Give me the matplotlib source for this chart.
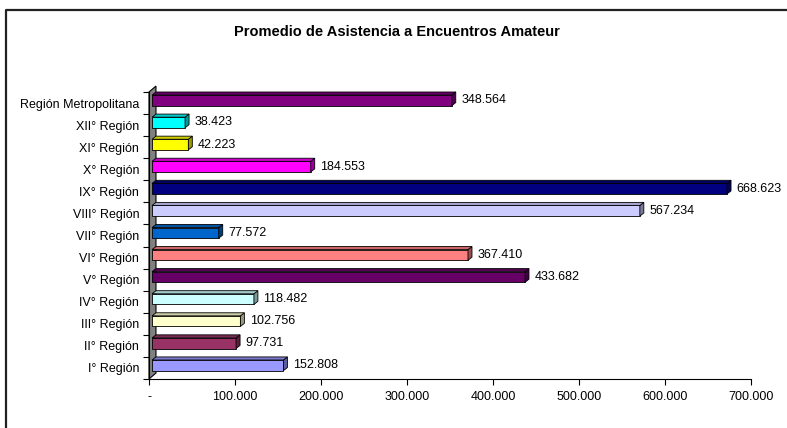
import matplotlib
matplotlib.use("Agg")
import matplotlib.pyplot as plt
import numpy as np
from matplotlib.colors import to_rgb
from matplotlib.lines import Line2D
from matplotlib.patches import Polygon

plt.rcParams["font.family"] = ["Liberation Sans", "DejaVu Sans"]

TITLE = "Promedio de Asistencia a Encuentros Amateur"

REGIONS = [
    "I° Región", "II° Región", "III° Región", "IV° Región", "V° Región",
    "VI° Región", "VII° Región", "VIII° Región", "IX° Región", "X° Región",
    "XI° Región", "XII° Región", "Región Metropolitana",
]
ATTENDANCE = [
    152808, 97731, 102756, 118482, 433682, 367410, 77572,
    567234, 668623, 184553, 42223, 38423, 348564,
]
BAR_COLORS = [
    "#9999FF", "#993366", "#FFFFCC", "#CCFFFF", "#660066", "#FF8080", "#0066CC",
    "#CCCCFF", "#000080", "#FF00FF", "#FFFF00", "#00FFFF", "#800080",
]
X_TICKS = [0, 100000, 200000, 300000, 400000, 500000, 600000, 700000]

# fake 3D look (Excel style)
WALL_X = 8100      # wall thickness in data units
DEPTH_X = 4650     # bar depth, data units
DEPTH_Y = 0.14     # bar depth, category units
BAR_LEFT = 3500    # bars sit a bit inside the wall
BAR_H = 0.48
BAR_SHIFT = 0.12


def fmt_miles(v):
    if v == 0:
        return "-"
    return f"{v:,.0f}".replace(",", ".")


def shade(color, k):
    r, g, b = to_rgb(color)
    return (r * k, g * k, b * k)


W, H = 787, 428
fig = plt.figure(figsize=(W / 100, H / 100), dpi=100)
ax = fig.add_axes([149 / W, 1 - 379 / H, (751 - 149) / W, (379 - 92) / H])

n = len(REGIONS)
ypos = np.arange(n)

# gray side wall
wall = Polygon(
    [(0, -0.5), (0, n - 0.5), (WALL_X, n - 0.5 + 0.27), (WALL_X, -0.5 + 0.27)],
    closed=True, facecolor="#808080", edgecolor="black", lw=0.8, zorder=1, clip_on=False,
)
ax.add_patch(wall)

centers = ypos + BAR_SHIFT
ax.barh(centers, ATTENDANCE, left=BAR_LEFT, height=BAR_H, color=BAR_COLORS,
        edgecolor="black", linewidth=0.6, zorder=3)

for c, v, col in zip(centers, ATTENDANCE, BAR_COLORS):
    yb, yt = c - BAR_H / 2, c + BAR_H / 2
    x1 = BAR_LEFT + v
    side = Polygon([(x1, yb), (x1 + DEPTH_X, yb + DEPTH_Y), (x1 + DEPTH_X, yt + DEPTH_Y), (x1, yt)],
                   closed=True, facecolor=shade(col, 0.6), edgecolor="black", lw=0.6,
                   zorder=3, clip_on=False)
    top = Polygon([(BAR_LEFT, yt), (BAR_LEFT + DEPTH_X, yt + DEPTH_Y),
                   (x1 + DEPTH_X, yt + DEPTH_Y), (x1, yt)],
                  closed=True, facecolor=shade(col, 0.8), edgecolor="black", lw=0.6,
                  zorder=3, clip_on=False)
    ax.add_patch(side)
    ax.add_patch(top)
    ax.annotate(fmt_miles(v), xy=(x1 + DEPTH_X, c), xytext=(4, 0), textcoords="offset points",
                ha="left", va="center", fontsize=9, color="black", zorder=4)

ax.set_xlim(0, 700000)
ax.set_ylim(-0.5, n - 0.5)
ax.set_xticks(X_TICKS)
ax.set_xticklabels([fmt_miles(t) for t in X_TICKS], fontsize=9)
ax.set_yticks(ypos)
ax.set_yticklabels(REGIONS, fontsize=9)
ax.set_yticks(np.arange(-0.5, n, 1.0), minor=True)
ax.tick_params(axis="y", which="major", length=0, pad=7)
ax.tick_params(axis="y", which="minor", length=4, width=0.8, direction="out")
ax.tick_params(axis="x", length=4, width=0.8, direction="out", pad=5)
for s in ("top", "right"):
    ax.spines[s].set_visible(False)
for s in ("left", "bottom"):
    ax.spines[s].set_linewidth(0.8)
    ax.spines[s].set_zorder(2)

fig.text(397 / W, 1 - 32 / H, TITLE, ha="center", va="center", fontsize=10.5, fontweight="bold")

# outer chart border (cut off on right and bottom)
fig.add_artist(Line2D([6 / W, 6 / W, 1.0], [0.0, 1 - 10 / H, 1 - 10 / H],
                      transform=fig.transFigure, color="#222222", lw=1.6))

fig.savefig("out.png", dpi=100)
